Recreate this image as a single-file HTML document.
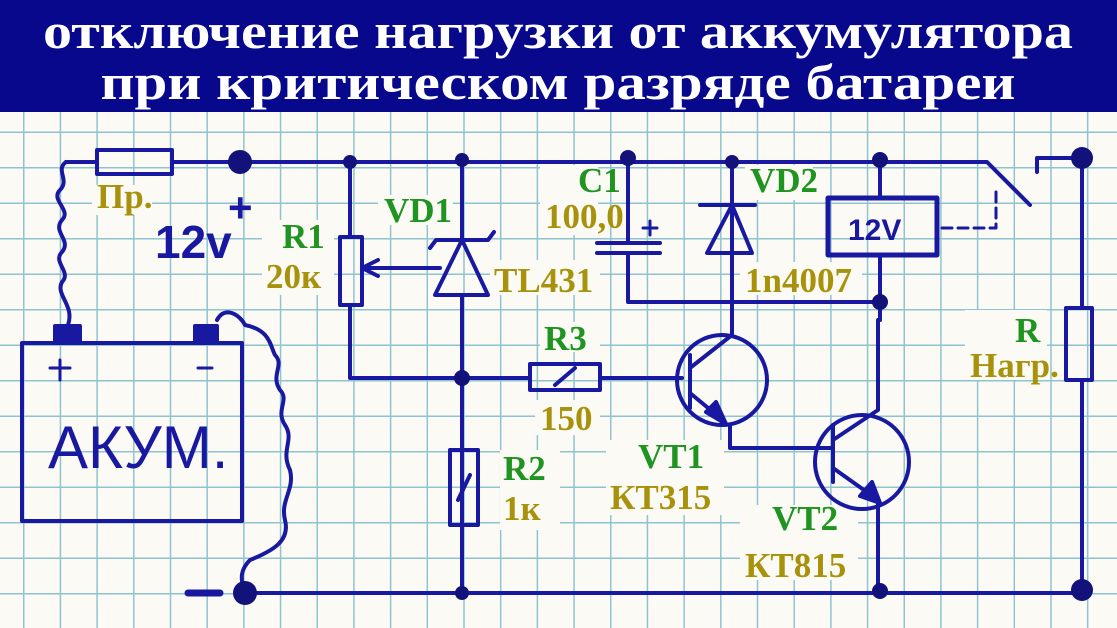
<!DOCTYPE html>
<html><head><meta charset="utf-8"><style>
html,body{margin:0;padding:0;width:1117px;height:628px;overflow:hidden}
body{background-color:#fbfaf4;background-image:linear-gradient(to right,#8fc3cf 1.3px,transparent 1.3px),linear-gradient(to bottom,#8fc3cf 1.3px,transparent 1.3px);background-size:36.7px 35.5px;background-position:23px 25px}
svg{display:block}
.g{font-family:"Liberation Serif",serif;font-weight:bold;font-size:35px;fill:#1f9420}
.o{font-family:"Liberation Serif",serif;font-weight:bold;font-size:35px;fill:#a8920c}
.h{font-family:"Liberation Serif",serif;font-weight:bold;font-size:50px;fill:#fff}
</style></head><body>
<svg width="1117" height="628" viewBox="0 0 1117 628" xmlns="http://www.w3.org/2000/svg">
<rect x="0" y="0" width="1117" height="112" fill="#08088c"/>
<text class="h" x="558" y="48" text-anchor="middle" textLength="1030" lengthAdjust="spacingAndGlyphs">отключение нагрузки от аккумулятора</text>
<text class="h" x="558" y="99" text-anchor="middle" textLength="915" lengthAdjust="spacingAndGlyphs">при критическом разряде батареи</text>

<g fill="#fbfaf4">
<rect x="92" y="185" width="60" height="30"/>
<rect x="378" y="195" width="75" height="30"/>
<rect x="262" y="220" width="72" height="75"/>
<rect x="490" y="260" width="110" height="35"/>
<rect x="540" y="322" width="60" height="30"/>
<rect x="535" y="400" width="65" height="35"/>
<rect x="500" y="450" width="60" height="80"/>
<rect x="606" y="440" width="118" height="75"/>
<rect x="740" y="505" width="118" height="75"/>
<rect x="540" y="165" width="58" height="70"/>
<rect x="745" y="165" width="68" height="35"/>
<rect x="740" y="262" width="122" height="33"/>
<rect x="965" y="310" width="82" height="70"/>
</g>

<g stroke="#1818a0" stroke-width="4" fill="none" stroke-linecap="round" stroke-linejoin="round">
<path d="M66 162H97M172 162H987L1030 205"/>
<path d="M1037 172V158H1082"/>
<rect x="97" y="150" width="75" height="24"/>
<path d="M996 192V228H940" stroke-dasharray="10 6" stroke-width="3"/>
<path d="M66 162C55 170 70 180 60 190C50 200 72 210 62 220C52 232 72 240 62 252C52 262 72 272 62 282C55 295 75 305 68 325"/>
<path d="M217 320C225 305 240 315 245 325C270 330 270 345 275 355C285 365 270 375 280 390C290 400 275 410 285 425C295 440 280 450 290 470C295 490 280 500 285 520C290 540 275 550 250 560C240 570 240 580 245 590"/>
<rect x="22" y="343" width="220" height="178"/>
<rect x="55" y="326" width="25" height="17" fill="#1818a0"/>
<rect x="195" y="326" width="22" height="17" fill="#1818a0"/>
<path d="M50 368H70M60 360V380M198 368H212" stroke-width="3"/>
<path d="M245 593H1082"/>
<path d="M188 593H220" stroke-width="7"/>
<path d="M350 162V237M350 305V378H462"/>
<rect x="340" y="237" width="22" height="68"/>
<path d="M362 268H440"/>
<path d="M362 268L378 260M362 268L378 276"/>
<path d="M462 160V240M462 295V592"/>
<path d="M435 295H488L462 240Z"/>
<path d="M430 248L436 240H488L494 232"/>
<rect x="450" y="450" width="28" height="75"/>
<path d="M458 500L470 475"/>
<path d="M462 378H530M600 378H682"/>
<rect x="530" y="364" width="70" height="26"/>
<path d="M555 385L575 368"/>
<path d="M628 162V243M628 253V302H880"/>
<path d="M597 243H660M597 253H660"/>
<path d="M643 228H657M650 221V235" stroke-width="3"/>
<path d="M732 162V335"/>
<path d="M700 205H755M707 253H752L732 205Z"/>
<path d="M880 162V198M880 255V320"/>
<rect x="828" y="198" width="109" height="57" stroke-width="5"/>
<circle cx="722" cy="380" r="45"/>
<path d="M690 355V408"/>
<path d="M690 368L732 335M690 393L725 422M730 425V448H833"/>
<path d="M706 412L726 424L716 402Z" fill="#1818a0"/>
<circle cx="862" cy="462" r="47"/>
<path d="M833 425V482"/>
<path d="M833 440L878 410V320M833 468L878 500V592"/>
<path d="M860 496L880 503L872 482Z" fill="#1818a0"/>
<path d="M1082 158V308M1082 380V590"/>
<rect x="1066" y="308" width="26" height="72"/>
</g>
<g fill="#12127a">
<circle cx="240" cy="162" r="12"/>
<circle cx="245" cy="593" r="12"/>
<circle cx="350" cy="162" r="7"/>
<circle cx="462" cy="160" r="7"/>
<circle cx="628" cy="158" r="8"/>
<circle cx="732" cy="162" r="7"/>
<circle cx="880" cy="160" r="8"/>
<circle cx="462" cy="378" r="8"/>
<circle cx="880" cy="302" r="8"/>
<circle cx="462" cy="593" r="7"/>
<circle cx="880" cy="591" r="8"/>
<circle cx="1082" cy="158" r="11"/>
<circle cx="1082" cy="590" r="11"/>
</g>
<g font-family="Liberation Sans,sans-serif" font-weight="bold" fill="#1818a0">
<text x="155" y="258" font-size="46">12v</text>
<text x="228" y="222" font-size="42">+</text>
<text x="48" y="468" font-size="60" font-weight="normal">АКУМ.</text>
<text x="848" y="240" font-size="30">12V</text>
</g>
<text class="o" x="97" y="208" font-size="28">Пр.</text>
<text class="g" x="384" y="222" font-size="30">VD1</text>
<text class="g" x="282" y="248">R1</text>
<text class="o" x="266" y="288">20к</text>
<text class="o" x="494" y="292">TL431</text>
<text class="g" x="544" y="350">R3</text>
<text class="o" x="540" y="430">150</text>
<text class="g" x="503" y="480">R2</text>
<text class="o" x="503" y="520">1к</text>
<text class="g" x="638" y="468" font-size="30">VT1</text>
<text class="o" x="610" y="509">КТ315</text>
<text class="g" x="772" y="530" font-size="30">VT2</text>
<text class="o" x="745" y="577">КТ815</text>
<text class="g" x="578" y="192" font-size="30">C1</text>
<text class="o" x="545" y="228" font-size="28">100,0</text>
<text class="g" x="750" y="192" font-size="30">VD2</text>
<text class="o" x="745" y="292">1n4007</text>
<text class="g" x="1015" y="342" font-size="28">R</text>
<text class="o" x="970" y="377" font-size="28">Нагр.</text>
</svg>
</body></html>
